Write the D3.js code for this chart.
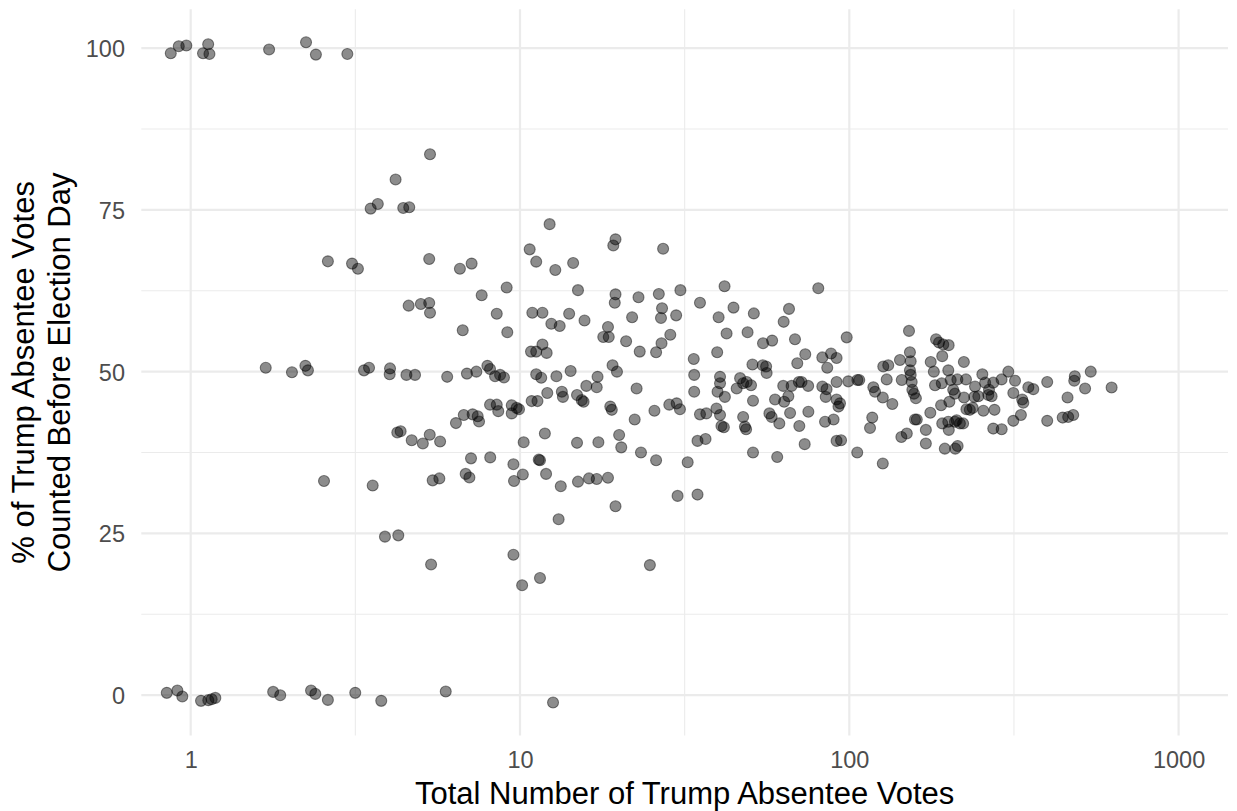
<!DOCTYPE html>
<html>
<head>
<meta charset="utf-8">
<script src="https://cdn.jsdelivr.net/npm/d3@7"></script>
<style>
  html, body { margin: 0; padding: 0; background: #ffffff; }
  svg { display: block; }
  text { font-family: "Liberation Sans", Arial, Helvetica, sans-serif; }
</style>
</head>
<body>
<svg id="chart" width="1237" height="811"></svg>
<script>
// ---- Data ----
const votes = [
  0.87, 0.92, 0.97, 1.09, 1.13, 1.14, 1.73, 2.24, 2.40, 2.99,
  5.33, 4.19, 3.52, 3.70, 4.42, 4.61,
  2.61, 3.09, 3.22, 5.30, 6.57, 7.13, 9.11, 7.65, 4.59, 5.00, 5.30, 5.33, 8.50, 6.70, 9.15,
  1.69, 2.03, 2.23, 2.27, 3.36, 3.48, 4.03, 4.02, 4.52, 4.80, 6.01, 6.90, 7.37, 7.96, 8.11, 8.40, 8.70, 8.94,
  8.11, 8.50, 8.59, 6.75, 7.18, 7.44, 7.51, 6.39, 4.24, 4.34, 4.69, 5.07, 5.32, 5.72, 7.10, 8.12,
  2.54, 3.57, 5.43, 5.69, 6.84, 7.02,
  3.89, 4.27, 5.37,
  0.846, 0.911, 0.943, 1.075, 1.131, 1.158, 1.188, 1.78, 1.87, 2.32, 2.39, 2.61, 3.16, 3.79, 5.95, 12.6,
  12.3, 10.7, 11.2, 12.8, 14.5, 19.5, 19.2, 27.2, 15.0, 19.5, 19.4, 22.9, 26.4, 30.7, 41.8, 80.5, 35.2,
  10.9, 11.7, 12.45, 13.2, 14.1, 15.7, 18.5, 17.9, 18.6, 21.9, 21.0, 23.1, 27.0, 26.8, 29.8, 28.6, 26.9, 25.9,
  11.2, 11.7, 12.05, 10.8, 33.7, 40.1, 44.5, 42.4, 39.7, 51.3, 49.1, 54.7, 58.3, 65.6, 63.2, 68.4, 73.5, 82.8, 88.0, 91.5,
  11.2, 11.6, 12.9, 14.25, 19.1, 19.7, 17.2, 15.9, 17.1, 14.9, 15.4, 15.6, 13.4, 13.5, 12.1, 10.85, 11.3,
  9.93, 9.77, 9.44, 9.44, 18.8, 19.0, 22.6, 22.3, 25.6, 28.4, 29.9, 30.6, 33.8, 33.8, 35.2, 36.8, 39.5, 40.5,
  39.8, 40.5, 40.5, 41.9, 40.9, 41.6, 45.5, 46.6, 47.6, 48.8, 50.3, 47.6, 48.2, 48.6, 51.0, 50.8, 54.6, 55.9, 56.1,
  51.0, 60.4, 57.2, 58.1, 61.3, 59.5, 63.0, 63.4, 65.3, 66.1, 66.8, 70.3, 71.6, 75.0, 69.5, 70.5, 73.2, 75.1,
  82.8, 85.3, 84.8, 91.5, 85.7, 91.5, 93.7, 92.7, 84.4, 89.6, 91.5, 94.4,
  10.26, 11.9, 14.9, 17.3, 20.0, 20.3, 23.3, 25.9, 32.3, 34.6, 36.6,
  9.55, 10.2, 9.59, 11.4, 11.5, 12.0, 13.3, 15.0, 16.2, 17.1, 18.5, 19.5, 13.1, 30.1, 34.6,
  9.55, 10.15, 11.5, 24.8,
  98.2, 151.8, 183.4, 187.3, 192.9, 200.3, 191.5, 152.8, 153.6, 142.5, 126.8, 131.3, 129.9, 152.8, 153.6, 154.7,
  144.3, 118.3, 107.2, 105.8, 99.3, 176.7, 180.6, 199.8, 222.8, 190.9, 203.2, 212.9, 226.1, 182.1, 253.5, 304,
  290, 318.6, 273.6, 399, 484, 482, 541, 240.9, 349.7, 362, 520, 626, 258.5,
  105.7, 126.4, 119.7, 126.4, 135.1, 117.4, 115.6, 143.9, 149.5, 155.4, 157.2, 159.3, 158.3, 160.3, 170.8, 170.8,
  176.2, 190, 191.5, 200.5, 199.8, 209.3, 211.8, 221.6, 216.7, 201.3, 209.3, 206.8, 223, 226.8, 232.3, 237,
  239.7, 246.5, 264.3, 255.3, 265.6, 270.5, 276, 273.6, 290.2, 314.8, 332, 314.8, 335, 337.6, 399, 444.6,
  462, 478.6, 460, 195, 209.8, 213.3
];
const pctBefore = [
  99.2, 100.3, 100.4, 99.2, 100.6, 99.1, 99.8, 100.9, 99.0, 99.1,
  83.6, 79.7, 75.2, 75.9, 75.3, 75.4,
  67.05, 66.7, 65.9, 67.4, 65.9, 66.7, 63.0, 61.8, 60.2, 60.45, 60.6, 59.1, 58.95, 56.4, 56.1,
  50.6, 49.9, 50.9, 50.2, 50.2, 50.6, 50.5, 49.6, 49.5, 49.5, 49.2, 49.7, 50.0, 50.9, 50.4, 49.3, 49.5, 49.1,
  44.9, 44.9, 43.9, 43.3, 43.4, 43.1, 42.3, 42.05, 40.6, 40.8, 39.4, 38.9, 40.25, 39.2, 36.6, 36.75,
  33.1, 32.4, 33.2, 33.5, 34.2, 33.65,
  24.5, 24.7, 20.2,
  0.36, 0.73, -0.2, -0.88, -0.77, -0.62, -0.42, 0.51, 0.0, 0.73, 0.2, -0.73, 0.36, -0.88, 0.57, -1.13,
  72.8, 68.9, 67.0, 65.7, 66.8, 70.45, 69.5, 69.0, 62.6, 61.95, 60.65, 61.5, 62.0, 62.6, 63.2, 62.9, 60.65,
  59.1, 59.1, 57.4, 57.05, 58.95, 57.9, 56.9, 55.35, 55.35, 58.4, 54.7, 53.1, 59.8, 58.3, 58.7, 55.7, 54.4, 53.0,
  53.1, 54.2, 52.9, 53.1, 51.95, 58.4, 59.9, 55.9, 53.0, 59.0, 56.1, 54.4, 54.8, 59.7, 57.7, 55.0, 52.7, 52.2, 52.8, 52.1,
  49.6, 49.05, 49.3, 50.1, 51.0, 50.0, 49.2, 47.8, 47.6, 46.4, 45.6, 45.35, 46.9, 46.1, 46.7, 45.45, 45.45,
  44.2, 44.4, 44.8, 43.55, 44.6, 44.1, 47.4, 42.6, 43.95, 44.9, 45.1, 44.2, 49.5, 46.9, 43.4, 43.55, 44.3, 43.3,
  46.9, 49.2, 48.2, 46.1, 41.6, 41.4, 47.4, 49.0, 48.2, 48.4, 47.9, 43.0, 41.5, 41.1, 45.5, 51.1, 51.0, 50.8, 49.8,
  37.5, 36.8, 43.55, 43.0, 42.0, 45.7, 47.8, 45.35, 46.2, 43.6, 47.8, 48.4, 48.4, 47.8, 51.3, 41.6, 38.8, 43.8,
  47.7, 47.3, 46.1, 48.4, 50.6, 45.7, 45.1, 44.6, 42.25, 42.6, 39.3, 39.4,
  39.1, 40.45, 39.0, 39.1, 40.2, 38.3, 37.5, 36.3, 36.0, 39.3, 39.6,
  35.7, 34.1, 33.1, 36.4, 36.3, 34.2, 32.3, 33.0, 33.5, 33.4, 33.6, 29.2, 27.2, 30.8, 31.0,
  21.7, 17.0, 18.1, 20.1,
  55.3, 56.3, 55.0, 54.5, 54.2, 54.1, 52.4, 53.0, 51.6, 51.8, 50.8, 51.0, 48.8, 50.2, 49.5, 48.4,
  48.7, 47.6, 48.7, 48.7, 48.5, 51.5, 50.0, 50.2, 51.5, 48.2, 48.7, 48.8, 48.8, 47.9, 49.6, 50.0,
  48.8, 48.6, 48.3, 48.4, 49.3, 48.6, 50.0, 47.7, 47.6, 47.3, 47.4, 47.55, 48.3,
  37.5, 35.8, 46.9, 46.0, 45.0, 42.9, 41.3, 39.9, 40.45, 47.2, 46.6, 45.9, 42.6, 42.6, 41.0, 38.9,
  43.65, 44.8, 42.0, 41.0, 42.25, 42.25, 42.5, 42.0, 42.0, 45.35, 46.6, 47.2, 46.0, 44.2, 44.1, 44.4,
  46.1, 46.2, 46.4, 43.95, 47.2, 46.2, 44.1, 41.2, 41.1, 42.4, 43.3, 46.7, 45.7, 45.2, 42.4, 42.9,
  43.0, 43.3, 46.0, 38.1, 38.1, 38.5
];
const xTickValues = [1, 10, 100, 1000];
const xTickLabels = ["1", "10", "100", "1000"];
const yTickValues = [0, 25, 50, 75, 100];
const yTickLabels = ["0", "25", "50", "75", "100"];
const xTitle = "Total Number of Trump Absentee Votes";
const yTitleLines = ["% of Trump Absentee Votes", "Counted Before Election Day"];

// ---- Layout ----
const panel = { left: 141.3, right: 1228, top: 9.3, bottom: 735.5 };
const svg = d3.select("#chart");

// x: log scale, limits 1..1000 expanded by 5% in log space
const lx0 = Math.log10(d3.min(xTickValues)), lx1 = Math.log10(d3.max(xTickValues));
const padX = (lx1 - lx0) * 0.05;
const x = d3.scaleLog()
  .domain([Math.pow(10, lx0 - padX), Math.pow(10, lx1 + padX)])
  .range([panel.left, panel.right]);

// y: data range expanded by 5%
const [ymin, ymax] = d3.extent(pctBefore);
const padY = (ymax - ymin) * 0.05;
const y = d3.scaleLinear()
  .domain([ymin - padY, ymax + padY])
  .range([panel.bottom, panel.top]);

// ---- Grid ----
const grid = svg.append("g");
const xMinor = d3.range(xTickValues.length - 1).map(i => Math.sqrt(xTickValues[i] * xTickValues[i + 1]));
const yMinor = d3.range(yTickValues.length - 1).map(i => (yTickValues[i] + yTickValues[i + 1]) / 2);

grid.selectAll(".ymin").data(yMinor).join("line")
  .attr("x1", panel.left).attr("x2", panel.right)
  .attr("y1", d => y(d)).attr("y2", d => y(d))
  .attr("stroke", "#ebebeb").attr("stroke-width", 1.1);
grid.selectAll(".xmin").data(xMinor).join("line")
  .attr("y1", panel.top).attr("y2", panel.bottom)
  .attr("x1", d => x(d)).attr("x2", d => x(d))
  .attr("stroke", "#ebebeb").attr("stroke-width", 1.1);
grid.selectAll(".ymaj").data(yTickValues).join("line")
  .attr("x1", panel.left).attr("x2", panel.right)
  .attr("y1", d => y(d)).attr("y2", d => y(d))
  .attr("stroke", "#ebebeb").attr("stroke-width", 2.2);
grid.selectAll(".xmaj").data(xTickValues).join("line")
  .attr("y1", panel.top).attr("y2", panel.bottom)
  .attr("x1", d => x(d)).attr("x2", d => x(d))
  .attr("stroke", "#ebebeb").attr("stroke-width", 2.2);

// ---- Points ----
const pts = votes.map((v, i) => ({ v, p: pctBefore[i] }));
svg.append("g").selectAll("circle").data(pts).join("circle")
  .attr("cx", d => x(d.v))
  .attr("cy", d => y(d.p))
  .attr("r", 5.5)
  .attr("fill", "rgba(0,0,0,0.45)")
  .attr("stroke", "rgba(0,0,0,0.45)")
  .attr("stroke-width", 1.1);

// ---- Axes (labels only, theme_minimal) ----
const xAxis = svg.append("g")
  .attr("transform", `translate(0,${panel.bottom})`)
  .call(d3.axisBottom(x).tickValues(xTickValues).tickFormat((d, i) => xTickLabels[i]).tickSize(0).tickPadding(0));
xAxis.select(".domain").remove();
xAxis.selectAll("text")
  .attr("y", 32.8).attr("dy", null)
  .attr("fill", "#4d4d4d")
  .style("font-size", "23.5px")
  .style("font-family", "'Liberation Sans', Arial, sans-serif");

const yAxis = svg.append("g")
  .attr("transform", `translate(125,0)`)
  .call(d3.axisLeft(y).tickValues(yTickValues).tickFormat((d, i) => yTickLabels[i]).tickSize(0).tickPadding(0));
yAxis.select(".domain").remove();
yAxis.selectAll("text")
  .attr("x", 0).attr("dy", "0.36em")
  .attr("fill", "#4d4d4d")
  .style("font-size", "23.5px")
  .style("font-family", "'Liberation Sans', Arial, sans-serif");

// ---- Titles ----
svg.append("text")
  .attr("x", (panel.left + panel.right) / 2)
  .attr("y", 804)
  .attr("text-anchor", "middle")
  .attr("fill", "#000")
  .style("font-size", "31px")
  .text(xTitle);

const yc = (panel.top + panel.bottom) / 2;
svg.selectAll(".ytitle").data(yTitleLines).join("text")
  .attr("transform", (d, i) => `translate(${34 + i * 35.5},${yc}) rotate(-90)`)
  .attr("text-anchor", "middle")
  .attr("fill", "#000")
  .style("font-size", "31px")
  .text(d => d);
</script>
</body>
</html>
